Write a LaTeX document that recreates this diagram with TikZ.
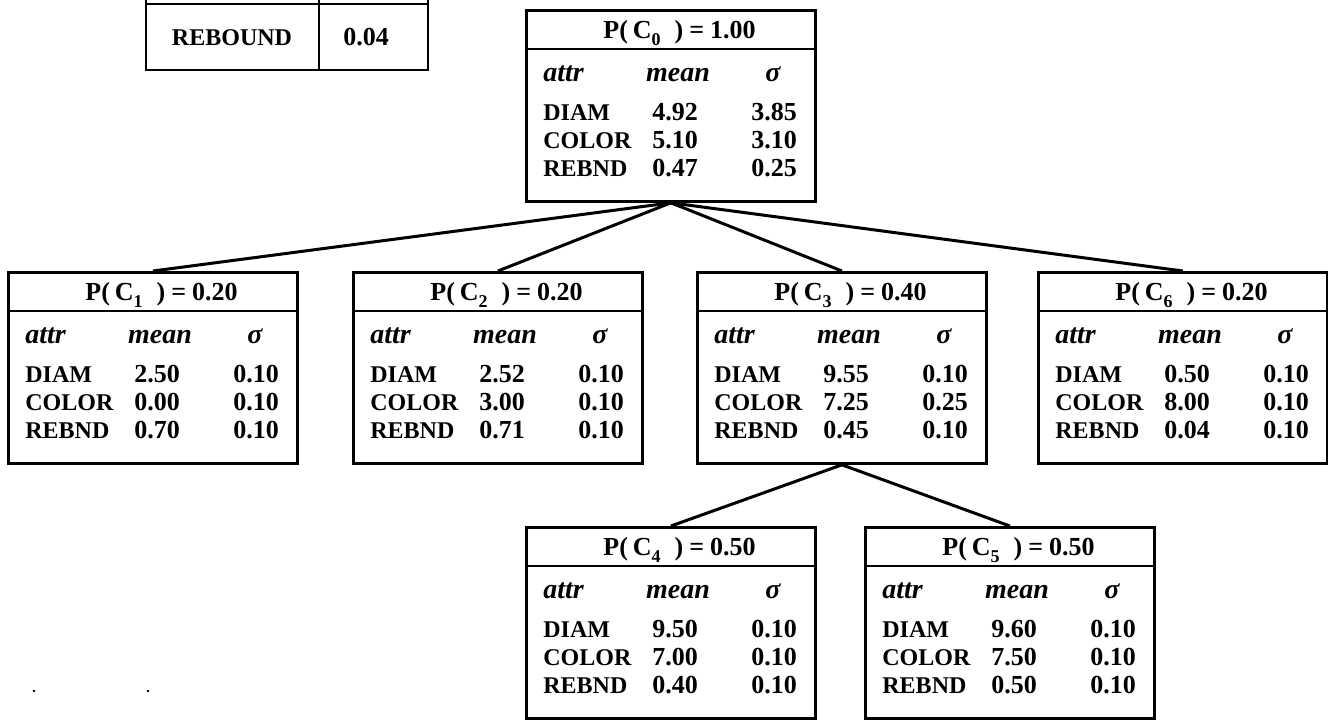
\documentclass[tikz,border=0pt]{standalone}
\usepackage{fontspec}
\setmainfont{Liberation Serif}
\newcommand\csub[1]{\raisebox{-0.6ex}{\fontsize{9}{10}\selectfont #1}}
\tikzset{
  cbox/.style={draw, line width=1.4pt, minimum width=144.5pt, minimum height=95.5pt, inner sep=0pt, anchor=north west},
  hline/.style={line width=1pt},
  conn/.style={line width=1.5pt},
  tblline/.style={line width=1.3pt},
  hdr/.style={inner sep=0pt, anchor=base west, font=\fontsize{13}{15}\selectfont\bfseries},
  txt/.style={inner sep=0pt, font=\fontsize{12}{14}\selectfont\bfseries},
  numtxt/.style={inner sep=0pt, font=\fontsize{13}{15}\selectfont\bfseries},
  ittxt/.style={inner sep=0pt, font=\fontsize{14}{16}\selectfont\bfseries\itshape},
}
\newcommand\cluster[5]{%
  \node[cbox] (#1) at (#2,#3) {};
  \draw[hline] (#2,#3+40) -- (#2+289,#3+40);
  \node[hdr] (#1-h) at (#2+78,#3+29) {P(\hspace{2.5pt}C\csub{#4}\hspace{7pt})\hspace{3pt}=\hspace{3pt}#5};
  \node[ittxt,anchor=base west] (#1-a) at (#2+18,#3+72) {attr};
  \node[ittxt,anchor=base] (#1-m) at (#2+153,#3+72) {mean};
  \node[ittxt,anchor=base] (#1-s) at (#2+248,#3+72) {σ};
}
\newcommand\crow[7]{%
  \node[txt,anchor=base west] (#1-#5) at (#2+18,#3+#4) {#5};
  \node[numtxt,anchor=base] (#1-#5m) at (#2+150,#3+#4) {#6};
  \node[numtxt,anchor=base] (#1-#5s) at (#2+249,#3+#4) {#7};
}
\newcommand\cthree[9]{%
  \crow{#1}{#2}{#3}{111}{DIAM}{#4}{#5}%
  \crow{#1}{#2}{#3}{139}{COLOR}{#6}{#7}%
  \crow{#1}{#2}{#3}{167}{REBND}{#8}{#9}%
}
\begin{document}
\begin{tikzpicture}[x=0.5pt,y=-0.5pt]
\fill[white] (0,0) rectangle (1328,719);
\useasboundingbox (0,0) rectangle (1328,719);
% top-left fragment of a table
\draw[tblline] (146,-10) -- (146,70) -- (428,70) -- (428,-10);
\draw[tblline] (319,-10) -- (319,70);
\draw[tblline] (146,4) -- (428,4);
\node[txt,anchor=base] (rb) at (232,45) {REBOUND};
\node[numtxt,anchor=base] (rv) at (366,45) {0.04};
% clusters
\cluster{c0}{525}{9}{0}{1.00}
\cthree{c0}{525}{9}{4.92}{3.85}{5.10}{3.10}{0.47}{0.25}
\cluster{c1}{7}{271}{1}{0.20}
\cthree{c1}{7}{271}{2.50}{0.10}{0.00}{0.10}{0.70}{0.10}
\cluster{c2}{352}{271}{2}{0.20}
\cthree{c2}{352}{271}{2.52}{0.10}{3.00}{0.10}{0.71}{0.10}
\cluster{c3}{696}{271}{3}{0.40}
\cthree{c3}{696}{271}{9.55}{0.10}{7.25}{0.25}{0.45}{0.10}
\cluster{c6}{1037}{271}{6}{0.20}
\cthree{c6}{1037}{271}{0.50}{0.10}{8.00}{0.10}{0.04}{0.10}
\cluster{c4}{525}{526}{4}{0.50}
\cthree{c4}{525}{526}{9.50}{0.10}{7.00}{0.10}{0.40}{0.10}
\cluster{c5}{864}{526}{5}{0.50}
\cthree{c5}{864}{526}{9.60}{0.10}{7.50}{0.10}{0.50}{0.10}
% connectors
\draw[conn] (c0.south) -- (c1.north);
\draw[conn] (c0.south) -- (c2.north);
\draw[conn] (c0.south) -- (c3.north);
\draw[conn] (c0.south) -- (c6.north);
\draw[conn] (c3.south) -- (c4.north);
\draw[conn] (c3.south) -- (c5.north);
% specks
\fill (34,691) circle (1.3);
\fill (148,691) circle (1.3);
\end{tikzpicture}
\end{document}
